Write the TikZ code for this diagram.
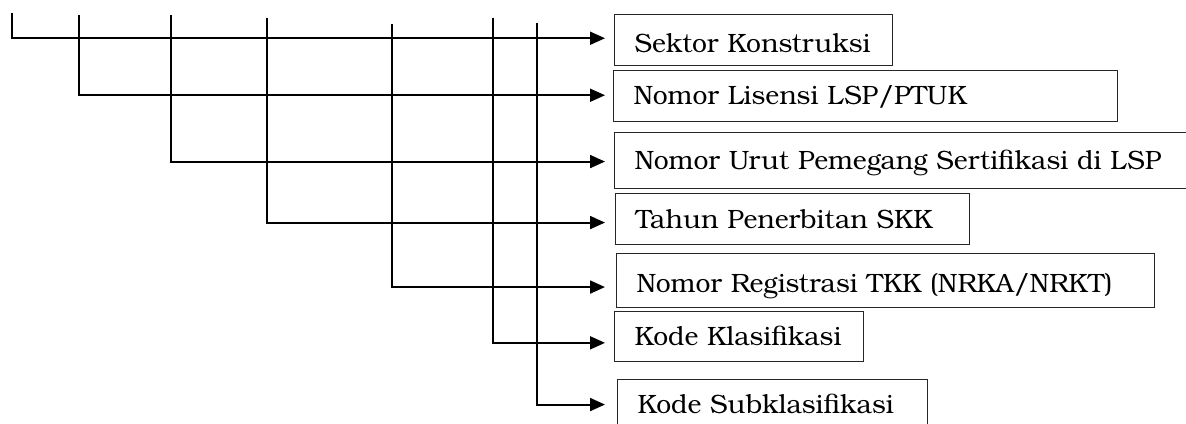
\documentclass[tikz,border=0pt]{standalone}
\usepackage{fontspec}
\setmainfont{texgyrebonum-regular.otf}
\usetikzlibrary{arrows.meta}
\begin{document}
\begin{tikzpicture}[x=1pt,y=-1pt,
  entry/.style={draw=black!85, line width=1.1pt, anchor=north west, inner xsep=20pt, inner ysep=0pt, align=left, font=\fontsize{26.5}{30}\selectfont},
  conn/.style={line width=1.9pt, -{Triangle[length=15pt,width=13pt]}}]
\useasboundingbox (0,0) rectangle (1186,423);
\clip (0,0) rectangle (1186,423);
% boxes
\node[entry, text width=238pt, text height=37.7pt, text depth=13.3pt] (b1) at (614,14) {Sektor Konstruksi};
\node[entry, text width=464pt, text height=34.3pt, text depth=16.7pt] (b2) at (613,70) {Nomor Lisensi LSP/PTUK};
\node[entry, text width=560pt, text height=37pt, text depth=19pt] (b3) at (614,132) {Nomor Urut Pemegang Sertifikasi di LSP};
\node[entry, text width=314pt, text height=35pt, text depth=16pt] (b4) at (615,193) {Tahun Penerbitan SKK};
\node[entry, text width=498pt, text height=39pt, text depth=15pt] (b5) at (616,253) {Nomor Registrasi TKK (NRKA/NRKT)};
\node[entry, text width=209pt, text height=34pt, text depth=16pt] (b6) at (614,311) {Kode Klasifikasi};
\node[entry, text width=270pt, text height=34pt, text depth=17pt] (b7) at (617,379) {Kode Subklasifikasi};
% connector starts
\coordinate (t1) at (12,12.7);
\coordinate (t2) at (79,15);
\coordinate (t3) at (171,15);
\coordinate (t4) at (267,17.7);
\coordinate (t5) at (392,24);
\coordinate (t6) at (493,17.7);
\coordinate (t7) at (537,22.7);
% connectors
\draw[conn] (t1) |- ([xshift=-9pt,yshift=1.8pt]b1.west);
\draw[conn] (t2) |- ([xshift=-8pt,yshift=0.8pt]b2.west);
\draw[conn] (t3) |- ([xshift=-9pt,yshift=-1pt]b3.west);
\draw[conn] (t4) |- ([xshift=-10pt,yshift=-3.5pt]b4.west);
\draw[conn] (t5) |- ([xshift=-11pt,yshift=-6.5pt]b5.west);
\draw[conn] (t6) |- ([xshift=-9pt,yshift=-6.3pt]b6.west);
\draw[conn] (t7) |- ([xshift=-12pt,yshift=0.5pt]b7.west);
\end{tikzpicture}
\end{document}
